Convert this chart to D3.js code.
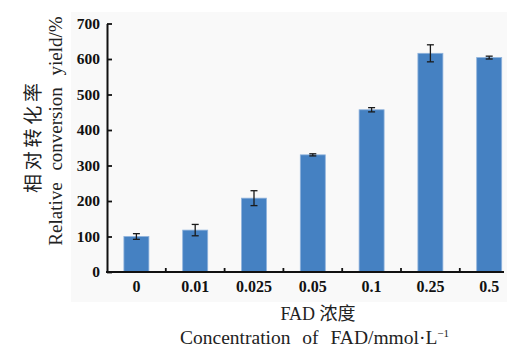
<!DOCTYPE html>
<meta charset="utf-8">
<script src="https://d3js.org/d3.v7.min.js"></script>
<style>
  body { margin: 0; background: #fff; }
  svg text { font-family: "Liberation Serif", "DejaVu Serif", serif; }
</style>
<body>
<div id="viz"></div>
<script>

// data
const conc = ["0", "0.01", "0.025", "0.05", "0.1", "0.25", "0.5"];
const yieldPct = [100, 118, 208, 330, 457, 616, 604];
const errPct = [8, 16, 21, 3, 6, 24, 4];
const yTicks = [0, 100, 200, 300, 400, 500, 600, 700];

const W = 507, H = 350;
const plotLeft = 107, plotBottom = 272, plotTop = 23.5;
const serif = "'Liberation Serif', serif";
const cjk = "'Noto Sans CJK SC', sans-serif";

const svg = d3.select("#viz").append("svg")
    .attr("width", W)
    .attr("height", H);

// faint grey panel behind the chart
svg.append("rect")
    .attr("x", 71).attr("y", 12)
    .attr("width", W - 71).attr("height", 290)
    .attr("fill", "#f9f9f9");

const x = d3.scaleBand()
    .domain(conc)
    .range([plotLeft, plotLeft + 7 * 58.8])
    .paddingInner(0.575)
    .paddingOuter(0.2875);

const y = d3.scaleLinear()
    .domain([0, 700])
    .range([plotBottom, plotTop]);

// bars
svg.selectAll(".bar")
  .data(conc)
  .join("rect")
    .attr("class", "bar")
    .attr("x", d => x(d))
    .attr("y", (d, i) => y(yieldPct[i]))
    .attr("width", x.bandwidth())
    .attr("height", (d, i) => plotBottom - y(yieldPct[i]))
    .attr("fill", "#4581c2")
    .attr("stroke", "#8fb3dc")
    .attr("stroke-width", 0.8);

// error bars
const eb = svg.selectAll(".err")
  .data(conc)
  .join("g")
    .attr("class", "err")
    .attr("stroke", "#1a1a1a")
    .attr("stroke-width", 1.3);
eb.append("line")
    .attr("x1", d => x(d) + x.bandwidth() / 2)
    .attr("x2", d => x(d) + x.bandwidth() / 2)
    .attr("y1", (d, i) => y(yieldPct[i] - errPct[i]))
    .attr("y2", (d, i) => y(yieldPct[i] + errPct[i]));
[-1, 1].forEach(s => {
  eb.append("line")
    .attr("x1", d => x(d) + x.bandwidth() / 2 - 3.5)
    .attr("x2", d => x(d) + x.bandwidth() / 2 + 3.5)
    .attr("y1", (d, i) => y(yieldPct[i] + s * errPct[i]))
    .attr("y2", (d, i) => y(yieldPct[i] + s * errPct[i]));
});

// y axis, ticks pointing inward
const yAxis = svg.append("g")
    .attr("transform", `translate(${plotLeft},0)`)
    .attr("font-family", serif)
    .call(d3.axisRight(y).tickValues(yTicks).tickSize(5).tickSizeOuter(0));
yAxis.select(".domain").attr("stroke", "#111").attr("stroke-width", 2);
yAxis.selectAll(".tick line").attr("stroke", "#111").attr("stroke-width", 1.8);
yAxis.selectAll(".tick text")
    .attr("x", -7)
    .attr("text-anchor", "end")
    .style("font-family", serif)
    .style("font-size", "15.5px")
    .style("font-weight", "bold")
    .attr("fill", "#111");

// x axis with small upward ticks between categories
svg.append("line")
    .attr("x1", plotLeft - 1).attr("x2", 504)
    .attr("y1", plotBottom).attr("y2", plotBottom)
    .attr("stroke", "#111").attr("stroke-width", 2);
svg.selectAll(".xtick")
  .data(conc.slice(1))
  .join("line")
    .attr("class", "xtick")
    .attr("x1", d => x(d) - x.step() * x.paddingInner() / 2)
    .attr("x2", d => x(d) - x.step() * x.paddingInner() / 2)
    .attr("y1", plotBottom).attr("y2", plotBottom - 4)
    .attr("stroke", "#111").attr("stroke-width", 1.8);
svg.selectAll(".xlab")
  .data(conc)
  .join("text")
    .attr("class", "xlab")
    .attr("x", d => x(d) + x.bandwidth() / 2)
    .attr("y", 292)
    .attr("text-anchor", "middle")
    .style("font-family", serif)
    .style("font-size", "16px")
    .style("font-weight", "bold")
    .attr("fill", "#111")
    .text(d => d);

// axis titles
svg.append("text")
    .attr("transform", "translate(40,138) rotate(-90)")
    .attr("text-anchor", "middle")
    .attr("textLength", 110)
    .attr("lengthAdjust", "spacing")
    .style("font-family", cjk)
    .style("font-size", "19px")
    .attr("fill", "#222")
    .text("相对转化率");
svg.append("text")
    .attr("transform", "translate(62,131) rotate(-90)")
    .attr("text-anchor", "middle")
    .attr("word-spacing", "7px")
    .style("font-family", serif)
    .style("font-size", "19px")
    .attr("fill", "#222")
    .text("Relative conversion yield/%");

const ft = svg.append("text")
    .attr("x", 318).attr("y", 320)
    .attr("text-anchor", "middle")
    .style("font-family", serif)
    .style("font-size", "18px")
    .attr("fill", "#222");
ft.append("tspan").text("FAD ");
ft.append("tspan").style("font-family", cjk).text("浓度");

const ct = svg.append("text")
    .attr("x", 180).attr("y", 344)
    .attr("word-spacing", "7px")
    .style("font-family", serif)
    .style("font-size", "19.5px")
    .attr("fill", "#222");
ct.append("tspan").text("Concentration of FAD/mmol·L");
ct.append("tspan")
    .attr("dy", -7)
    .style("font-size", "11px")
    .text("−1");

</script>
</body>
